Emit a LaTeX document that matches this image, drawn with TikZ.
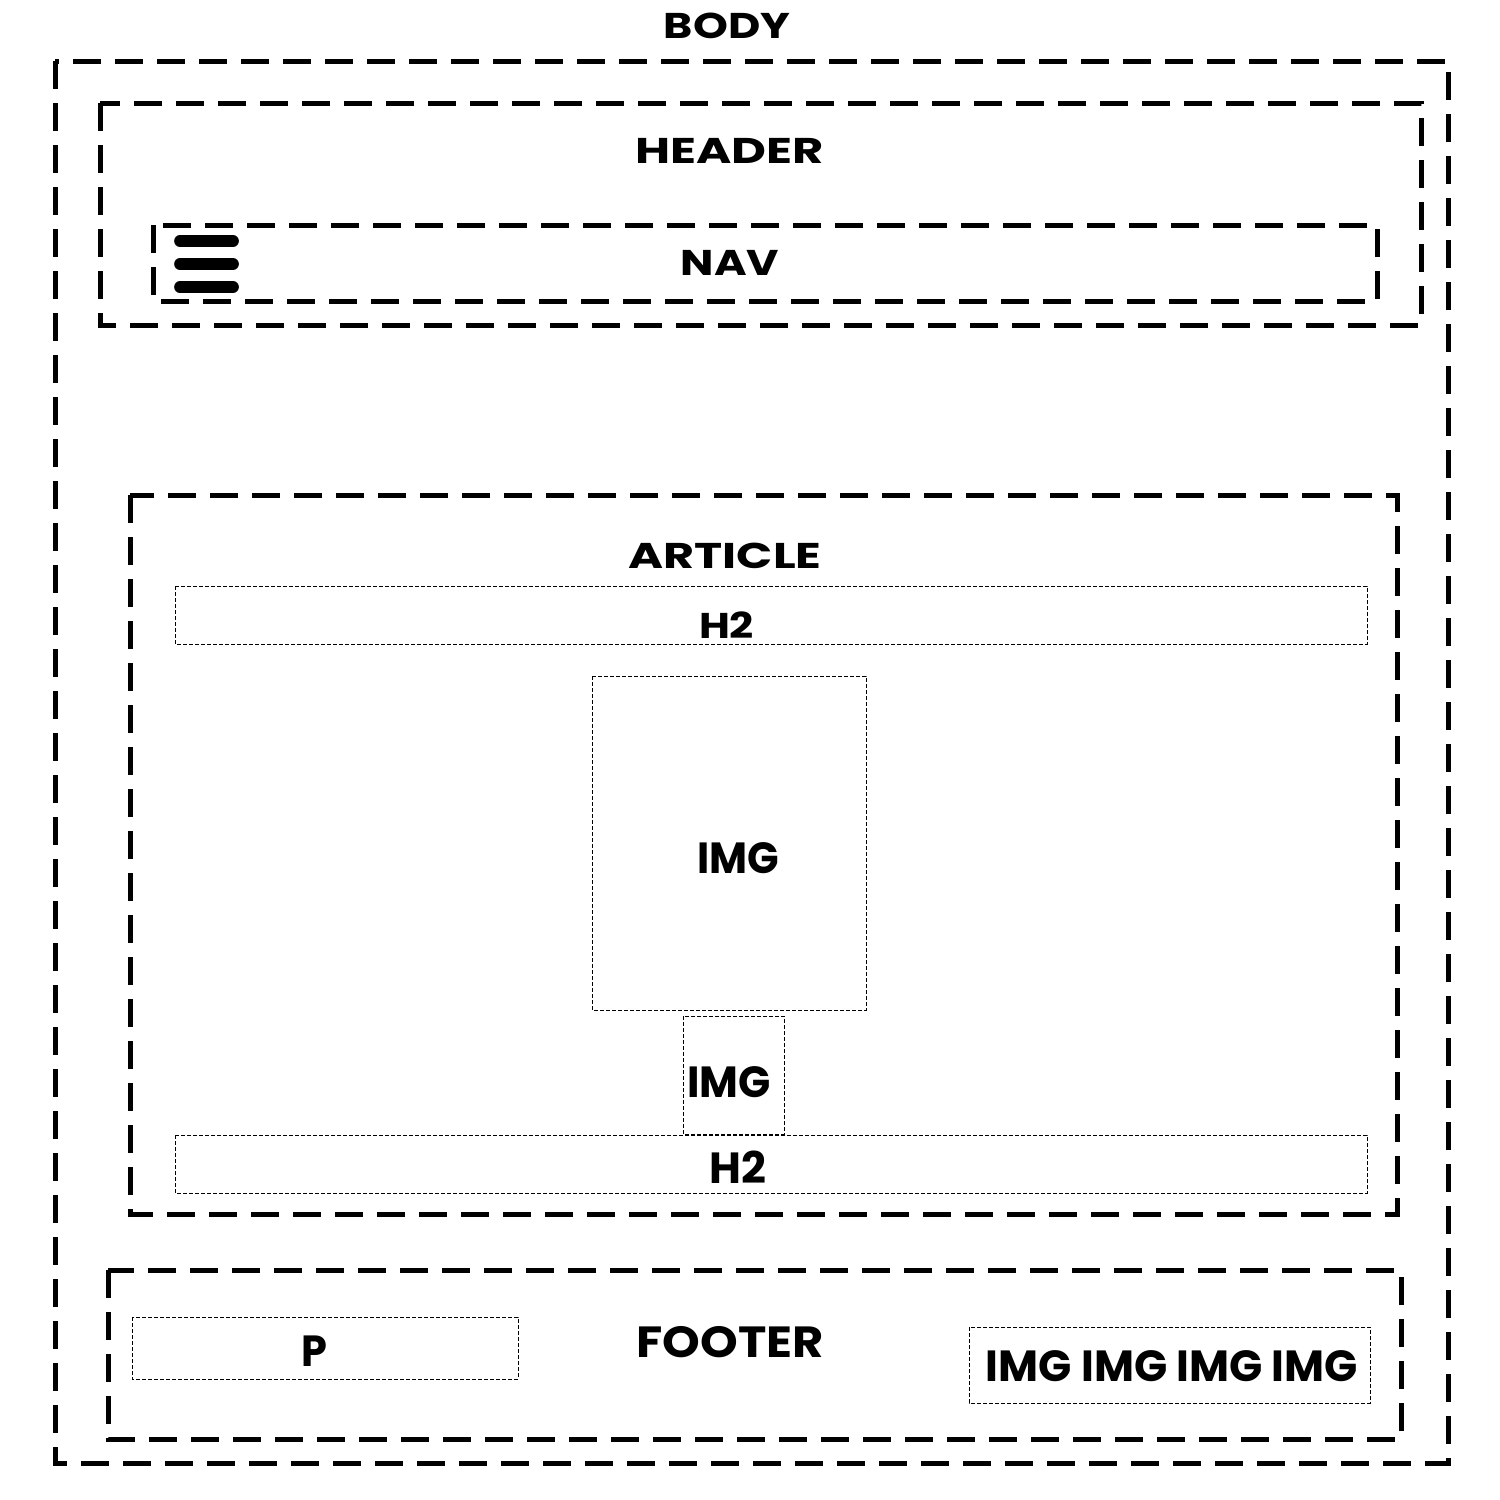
\documentclass[tikz,border=0pt]{standalone}
\usepackage{fontspec}
\setmainfont{Poppins}
\begin{document}
\begin{tikzpicture}[x=0.5pt,y=-0.5pt,
  bigbox/.style={draw=black, line width=2.5pt, dash pattern=on 14pt off 7pt},
  smallbox/.style={draw=black, line width=0.5pt, dash pattern=on 2pt off 1pt},
  labs/.style={anchor=base, inner sep=0pt, font=\fontsize{17.9}{20}\selectfont\bfseries\addfontfeature{FakeStretch=#1}},
  labs/.default=1.28,
  labl/.style={anchor=base, inner sep=0pt, font=\fontsize{21.8}{24}\selectfont\bfseries\addfontfeature{FakeStretch=#1}},
  labl/.default=1.0,
  burger/.style={line width=5.85pt, line cap=round}]
\useasboundingbox (0,0) rectangle (1500,1500);
% containers
\draw[bigbox] (55,61) rectangle (1448,1463);
\draw[bigbox] (100,103) rectangle (1421,325);
\draw[bigbox] (153,225) rectangle (1377,301);
\draw[bigbox] (130,495) rectangle (1397,1214);
\draw[bigbox] (108,1270) rectangle (1401,1439);
% inner elements
\draw[smallbox] (175,586) rectangle (1367,644);
\draw[smallbox] (592,676) rectangle (866,1010);
\draw[smallbox] (683,1016) rectangle (784,1134);
\draw[smallbox] (175,1135) rectangle (1367,1193);
\draw[smallbox] (132,1317) rectangle (518,1379);
\draw[smallbox] (969,1327) rectangle (1370,1403);
% hamburger
\coordinate (b1l) at (180,241); \coordinate (b1r) at (233,241);
\coordinate (b2l) at (180,264); \coordinate (b2r) at (233,264);
\coordinate (b3l) at (180,287); \coordinate (b3r) at (233,287);
\draw[burger] (b1l) -- (b1r);
\draw[burger] (b2l) -- (b2r);
\draw[burger] (b3l) -- (b3r);
% labels
\node[labs=1.24] (tbody) at (727,38) {BODY};
\node[labs=1.34] (theader) at (729.5,163) {HEADER};
\node[labs=1.24] (tnav) at (730,275) {NAV};
\node[labs=1.33] (tarticle) at (725,568) {ARTICLE};
\node[labs=1.18] (th2a) at (726.5,638) {H2};
\node[labl=0.95] (timga) at (738,873) {IMG};
\node[labl=0.97] (timgb) at (729,1097) {IMG};
\node[labl] (th2b) at (738,1183) {H2};
\node[labl=1.1] (tfooter) at (730,1357) {FOOTER};
\node[labl=0.95] (tp) at (314,1366) {P};
\node[labl] (timgs) at (1172,1381) {IMG IMG IMG IMG};
\end{tikzpicture}
\end{document}
